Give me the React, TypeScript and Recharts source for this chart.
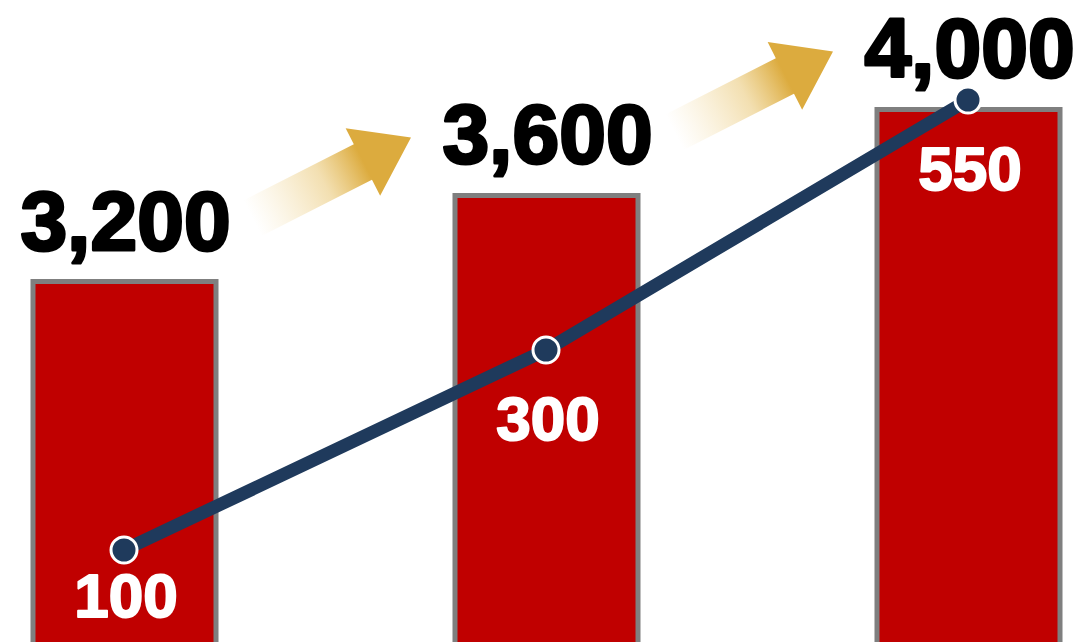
import * as React from "react"
import {
  ComposedChart,
  Bar,
  Line,
  XAxis,
  YAxis,
  LabelList,
} from "recharts"

// categories (no visible axis labels in the picture)
const periods = ["Y1", "Y2", "Y3"]
const revenue = [3200, 3600, 4000]
const users = [100, 300, 550]

const data = periods.map((p, i) => ({ period: p, revenue: revenue[i], users: users[i] }))

const RED = "#c00000"
const GRAY = "#7f7f7f"
const NAVY = "#1f3a5c"
const GOLD = "#dcab3e"
const FONT = "'Liberation Sans', Arial, sans-serif"

function Arrow({ tipX, tipY, id }: { tipX: number; tipY: number; id: string }) {
  return (
    <g transform={`translate(${tipX},${tipY}) rotate(-27)`}>
      <defs>
        <linearGradient id={id} x1="0" y1="0" x2="1" y2="0">
          <stop offset="0%" stopColor="#f0d28a" stopOpacity={0} />
          <stop offset="45%" stopColor="#e6bf62" stopOpacity={0.5} />
          <stop offset="70%" stopColor={GOLD} stopOpacity={1} />
          <stop offset="100%" stopColor={GOLD} stopOpacity={1} />
        </linearGradient>
      </defs>
      <polygon
        points="0,0 -54,-38 -54,-20 -178,-20 -178,20 -54,20 -54,38"
        fill={`url(#${id})`}
      />
    </g>
  )
}

function RevenueLabel(props: any) {
  const { x, y, width, value, index } = props
  const cx = x + width / 2
  return (
    <g>
      {index > 0 && <Arrow tipX={x - 44} tipY={y - 58} id={`arrow-grad-${index}`} />}
      <text
        x={cx + 1}
        y={Math.max(y - 32, 66)}
        textAnchor="middle"
        fontFamily={FONT}
        fontWeight="bold"
        fontSize={84}
        fill="#000"
        stroke="#000"
        strokeWidth={3}
        strokeLinejoin="round"
      >
        {Number(value).toLocaleString("en-US")}
      </text>
    </g>
  )
}

function UsersLabel(props: any) {
  const { x, y, value } = props
  return (
    <text
      x={x + 2}
      y={Math.min(y + 90, 617)}
      textAnchor="middle"
      fontFamily={FONT}
      fontWeight="bold"
      fontSize={62}
      fill="#fff"
      stroke="#fff"
      strokeWidth={2}
      strokeLinejoin="round"
    >
      {value}
    </text>
  )
}

export default function App() {
  return (
    <div
      style={{
        position: "absolute",
        left: 0,
        top: 0,
        width: 1086,
        height: 642,
        overflow: "hidden",
        background: "#fff",
      }}
    >
      <div style={{ position: "absolute", left: -87, top: 0 }}>
        <ComposedChart
          width={1266}
          height={660}
          data={data}
          margin={{ top: 0, right: 0, bottom: 0, left: 0 }}
        >
          <XAxis dataKey="period" hide />
          <YAxis yAxisId="rev" hide domain={[1440, 4509]} allowDataOverflow />
          <YAxis yAxisId="users" hide domain={[-10, 650]} allowDataOverflow />
          <Bar
            yAxisId="rev"
            dataKey="revenue"
            barSize={183}
            fill={RED}
            stroke={GRAY}
            strokeWidth={5}
            isAnimationActive={false}
          >
            <LabelList dataKey="revenue" content={RevenueLabel} />
          </Bar>
          <Line
            yAxisId="users"
            dataKey="users"
            type="linear"
            stroke={NAVY}
            strokeWidth={13}
            dot={{ r: 13, fill: NAVY, stroke: "#fff", strokeWidth: 3 }}
            activeDot={false}
            isAnimationActive={false}
          >
            <LabelList dataKey="users" content={UsersLabel} />
          </Line>
        </ComposedChart>
      </div>
    </div>
  )
}
